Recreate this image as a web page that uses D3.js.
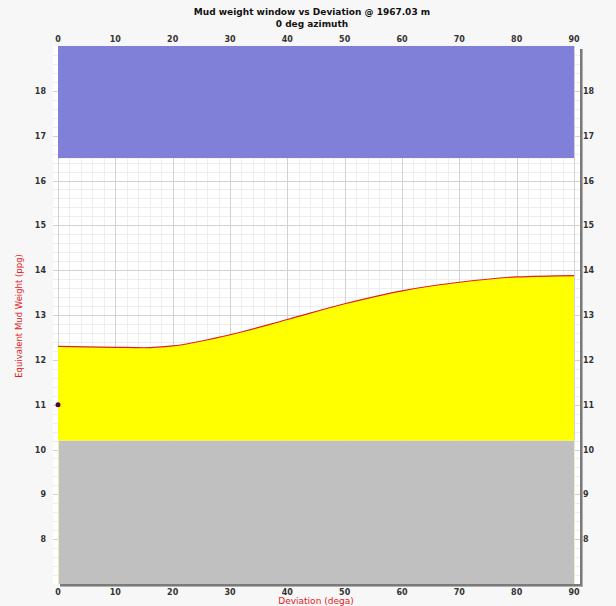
<!DOCTYPE html>
<html>
<head>
<meta charset="utf-8">
<script src="https://cdn.jsdelivr.net/npm/d3@7"></script>
<style>
  body { margin: 0; background: #f7f7f7; }
  text { font-family: "DejaVu Sans", Verdana, sans-serif; }
</style>
</head>
<body>
<div id="chart-area"></div>
<script>
// deviation (deg) vs upper mud weight limit (ppg)
var deviation = [0, 10, 15, 20, 30, 40, 50, 60, 70, 80, 90];
var upperLimit = [12.30, 12.28, 12.27, 12.31, 12.56, 12.90, 13.25, 13.54, 13.73, 13.85, 13.88];
var lowerLimit = 10.2;   // grey band top
var fracLimit = 16.5;    // blue band bottom
var currentMW = [{ dev: 0, mw: 11 }];
var xTicks = [0, 10, 20, 30, 40, 50, 60, 70, 80, 90];
var yTicks = [8, 9, 10, 11, 12, 13, 14, 15, 16, 17, 18];

var W = 616, H = 606;
var svg = d3.select("#chart-area").append("svg")
  .attr("width", W).attr("height", H);

var x = d3.scaleLinear().domain([0, 90]).range([58, 574]);
var y = d3.scaleLinear().domain([7, 19]).range([584, 46]);

// shadow + white box
svg.append("rect").attr("x", 60).attr("y", 49).attr("width", 523).attr("height", 538).attr("fill", "#b0b0b0");
svg.append("rect").attr("x", 60).attr("y", 49).attr("width", 522).attr("height", 537).attr("fill", "#7a7a7a");
svg.append("rect").attr("x", 53).attr("y", 46).attr("width", 527).attr("height", 538).attr("fill", "#ffffff");

var grid = svg.append("g");
// minor grid
d3.range(0, 91, 2).forEach(function(v) {
  if (v % 10 === 0) return;
  grid.append("line").attr("x1", Math.round(x(v)) + 0.5).attr("x2", Math.round(x(v)) + 0.5).attr("y1", 46).attr("y2", 584)
    .attr("stroke", "#eeeeee").attr("stroke-width", 1);
});
d3.range(7, 19.01, 0.2).forEach(function(v) {
  if (Math.abs(v - Math.round(v)) < 0.01) return;
  grid.append("line").attr("x1", 53).attr("x2", 580).attr("y1", Math.round(y(v)) + 0.5).attr("y2", Math.round(y(v)) + 0.5)
    .attr("stroke", "#eeeeee").attr("stroke-width", 1);
});
// major grid
xTicks.forEach(function(v) {
  grid.append("line").attr("x1", Math.round(x(v)) + 0.5).attr("x2", Math.round(x(v)) + 0.5).attr("y1", 46).attr("y2", 584)
    .attr("stroke", "#d2d2d2").attr("stroke-width", 1);
});
yTicks.forEach(function(v) {
  grid.append("line").attr("x1", 53).attr("x2", 580).attr("y1", Math.round(y(v)) + 0.5).attr("y2", Math.round(y(v)) + 0.5)
    .attr("stroke", "#d2d2d2").attr("stroke-width", 1);
});

// bands
svg.append("rect").attr("x", x(0)).attr("y", y(19)).attr("width", x(90) - x(0)).attr("height", y(fracLimit) - y(19))
  .attr("fill", "#8080d8");
svg.append("rect").attr("x", x(0)).attr("y", y(lowerLimit)).attr("width", x(90) - x(0)).attr("height", y(7) - y(lowerLimit))
  .attr("fill", "#c0c0c0");

var pts = deviation.map(function(d, i) { return { dev: d, mw: upperLimit[i] }; });
var area = d3.area().curve(d3.curveMonotoneX)
  .x(function(d) { return x(d.dev); })
  .y0(y(lowerLimit))
  .y1(function(d) { return y(d.mw); });
svg.append("path").datum(pts).attr("d", area).attr("fill", "#ffff00");
var line = d3.line().curve(d3.curveMonotoneX)
  .x(function(d) { return x(d.dev); })
  .y(function(d) { return y(d.mw); });
svg.append("path").datum(pts).attr("d", line).attr("fill", "none").attr("stroke", "#e0202a").attr("stroke-width", 1.2);

// edge lines
svg.append("line").attr("x1", x(0) + 0.5).attr("x2", x(0) + 0.5).attr("y1", y(lowerLimit)).attr("y2", 584)
  .attr("stroke", "#eeeeaa").attr("stroke-width", 1);
svg.append("line").attr("x1", x(90) + 0.5).attr("x2", x(90) + 0.5).attr("y1", y(lowerLimit)).attr("y2", 584)
  .attr("stroke", "#eeeecc").attr("stroke-width", 1);

// current mud weight
svg.selectAll(".pt").data(currentMW).enter().append("circle")
  .attr("cx", function(d) { return x(d.dev); })
  .attr("cy", function(d) { return y(d.mw); })
  .attr("r", 2.5).attr("fill", "#550044");

// tick labels
var lab = svg.append("g").attr("font-size", 8).attr("font-weight", "bold").attr("fill", "#333");
xTicks.forEach(function(v) {
  lab.append("text").attr("x", x(v)).attr("y", 42).attr("text-anchor", "middle").text(v);
  lab.append("text").attr("x", x(v)).attr("y", 595).attr("text-anchor", "middle").text(v);
});
yTicks.forEach(function(v) {
  lab.append("text").attr("x", 46).attr("y", y(v) + 3).attr("text-anchor", "end").text(v);
  lab.append("text").attr("x", 583).attr("y", y(v) + 3).attr("text-anchor", "start").text(v);
});

// titles
svg.append("text").attr("x", 312).attr("y", 15).attr("text-anchor", "middle")
  .attr("font-size", 9).attr("font-weight", "bold").attr("fill", "#111")
  .text("Mud weight window vs Deviation @ 1967.03 m");
svg.append("text").attr("x", 312).attr("y", 27).attr("text-anchor", "middle")
  .attr("font-size", 9).attr("font-weight", "bold").attr("fill", "#111")
  .text("0 deg azimuth");
svg.append("text").attr("x", 316).attr("y", 604).attr("text-anchor", "middle")
  .attr("font-size", 9).attr("fill", "#e02020").text("Deviation (dega)");
svg.append("text").attr("transform", "translate(22,316) rotate(-90)").attr("text-anchor", "middle")
  .attr("font-family", "'Liberation Sans', Arial, sans-serif")
  .attr("font-size", 8.5).attr("fill", "#e02020").text("Equivalent Mud Weight (ppg)");
</script>
</body>
</html>
